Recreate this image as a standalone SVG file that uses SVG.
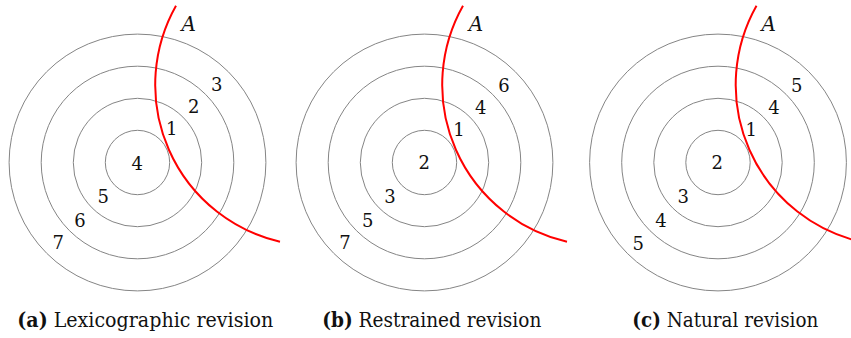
<svg xmlns="http://www.w3.org/2000/svg" width="851" height="338" viewBox="0 0 851 338">
<style>
.ring{fill:none;stroke:#858585;stroke-width:1}
.arc{fill:none;stroke:#ff0000;stroke-width:2}
.num{font-size:18px;text-anchor:middle;fill:#111}
.lab{font-size:20px;font-style:italic;text-anchor:middle;fill:#111}
.cap{font-size:20px;fill:#111}
.b{font-weight:bold}
</style>
<defs>
<g id="rings">
<circle class="ring" cx="0" cy="0" r="32.2"/>
<circle class="ring" cx="0" cy="0" r="64.2"/>
<circle class="ring" cx="0" cy="0" r="96.3"/>
<circle class="ring" cx="0" cy="0" r="128.4"/>
</g>
<path id="redarc" class="arc" d="M 38.5,-156.8 A 161 161 0 0 0 142.5,79.2"/>
</defs>
<rect width="851" height="338" fill="#ffffff"/>
<g id="panel-a" font-family="DejaVu Serif">
<use href="#rings" x="137.5" y="162.5"/>
<g id="connectors-a"><use href="#redarc" x="137.5" y="162.5"/></g>
<text class="lab" x="188.7" y="30.6">A</text>
<text class="num" x="216.7" y="90.6">3</text>
<text class="num" x="193.7" y="113.3">2</text>
<text class="num" x="171.7" y="135.3">1</text>
<text class="num" x="137.3" y="169.9">4</text>
<text class="num" x="103.3" y="203.3">5</text>
<text class="num" x="80" y="227.3">6</text>
<text class="num" x="58.3" y="249.3">7</text>
<text class="cap" x="17.3" y="327.3" textLength="256" lengthAdjust="spacingAndGlyphs"><tspan class="b">(a)</tspan> Lexicographic revision</text>
</g>
<g id="panel-b" font-family="DejaVu Serif">
<use href="#rings" x="424.5" y="162.5"/>
<g id="connectors-b"><use href="#redarc" x="424.5" y="162.5"/></g>
<text class="lab" x="476" y="30.6">A</text>
<text class="num" x="504" y="91.6">6</text>
<text class="num" x="480.7" y="113.9">4</text>
<text class="num" x="459" y="135.6">1</text>
<text class="num" x="424.3" y="169.3">2</text>
<text class="num" x="390" y="203.3">3</text>
<text class="num" x="367.7" y="226.6">5</text>
<text class="num" x="345" y="249.3">7</text>
<text class="cap" x="322.3" y="327.3" textLength="219" lengthAdjust="spacingAndGlyphs"><tspan class="b">(b)</tspan> Restrained revision</text>
</g>
<g id="panel-c" font-family="DejaVu Serif">
<use href="#rings" x="718" y="162.5"/>
<g id="connectors-c"><use href="#redarc" x="718" y="162.5"/></g>
<text class="lab" x="768.7" y="30.6">A</text>
<text class="num" x="796.7" y="91.6">5</text>
<text class="num" x="774" y="113.9">4</text>
<text class="num" x="751.3" y="135.6">1</text>
<text class="num" x="717.3" y="169.3">2</text>
<text class="num" x="683.3" y="203.3">3</text>
<text class="num" x="661" y="226.6">4</text>
<text class="num" x="638.3" y="249.9">5</text>
<text class="cap" x="632.3" y="327.3" textLength="186" lengthAdjust="spacingAndGlyphs"><tspan class="b">(c)</tspan> Natural revision</text>
</g>
</svg>
